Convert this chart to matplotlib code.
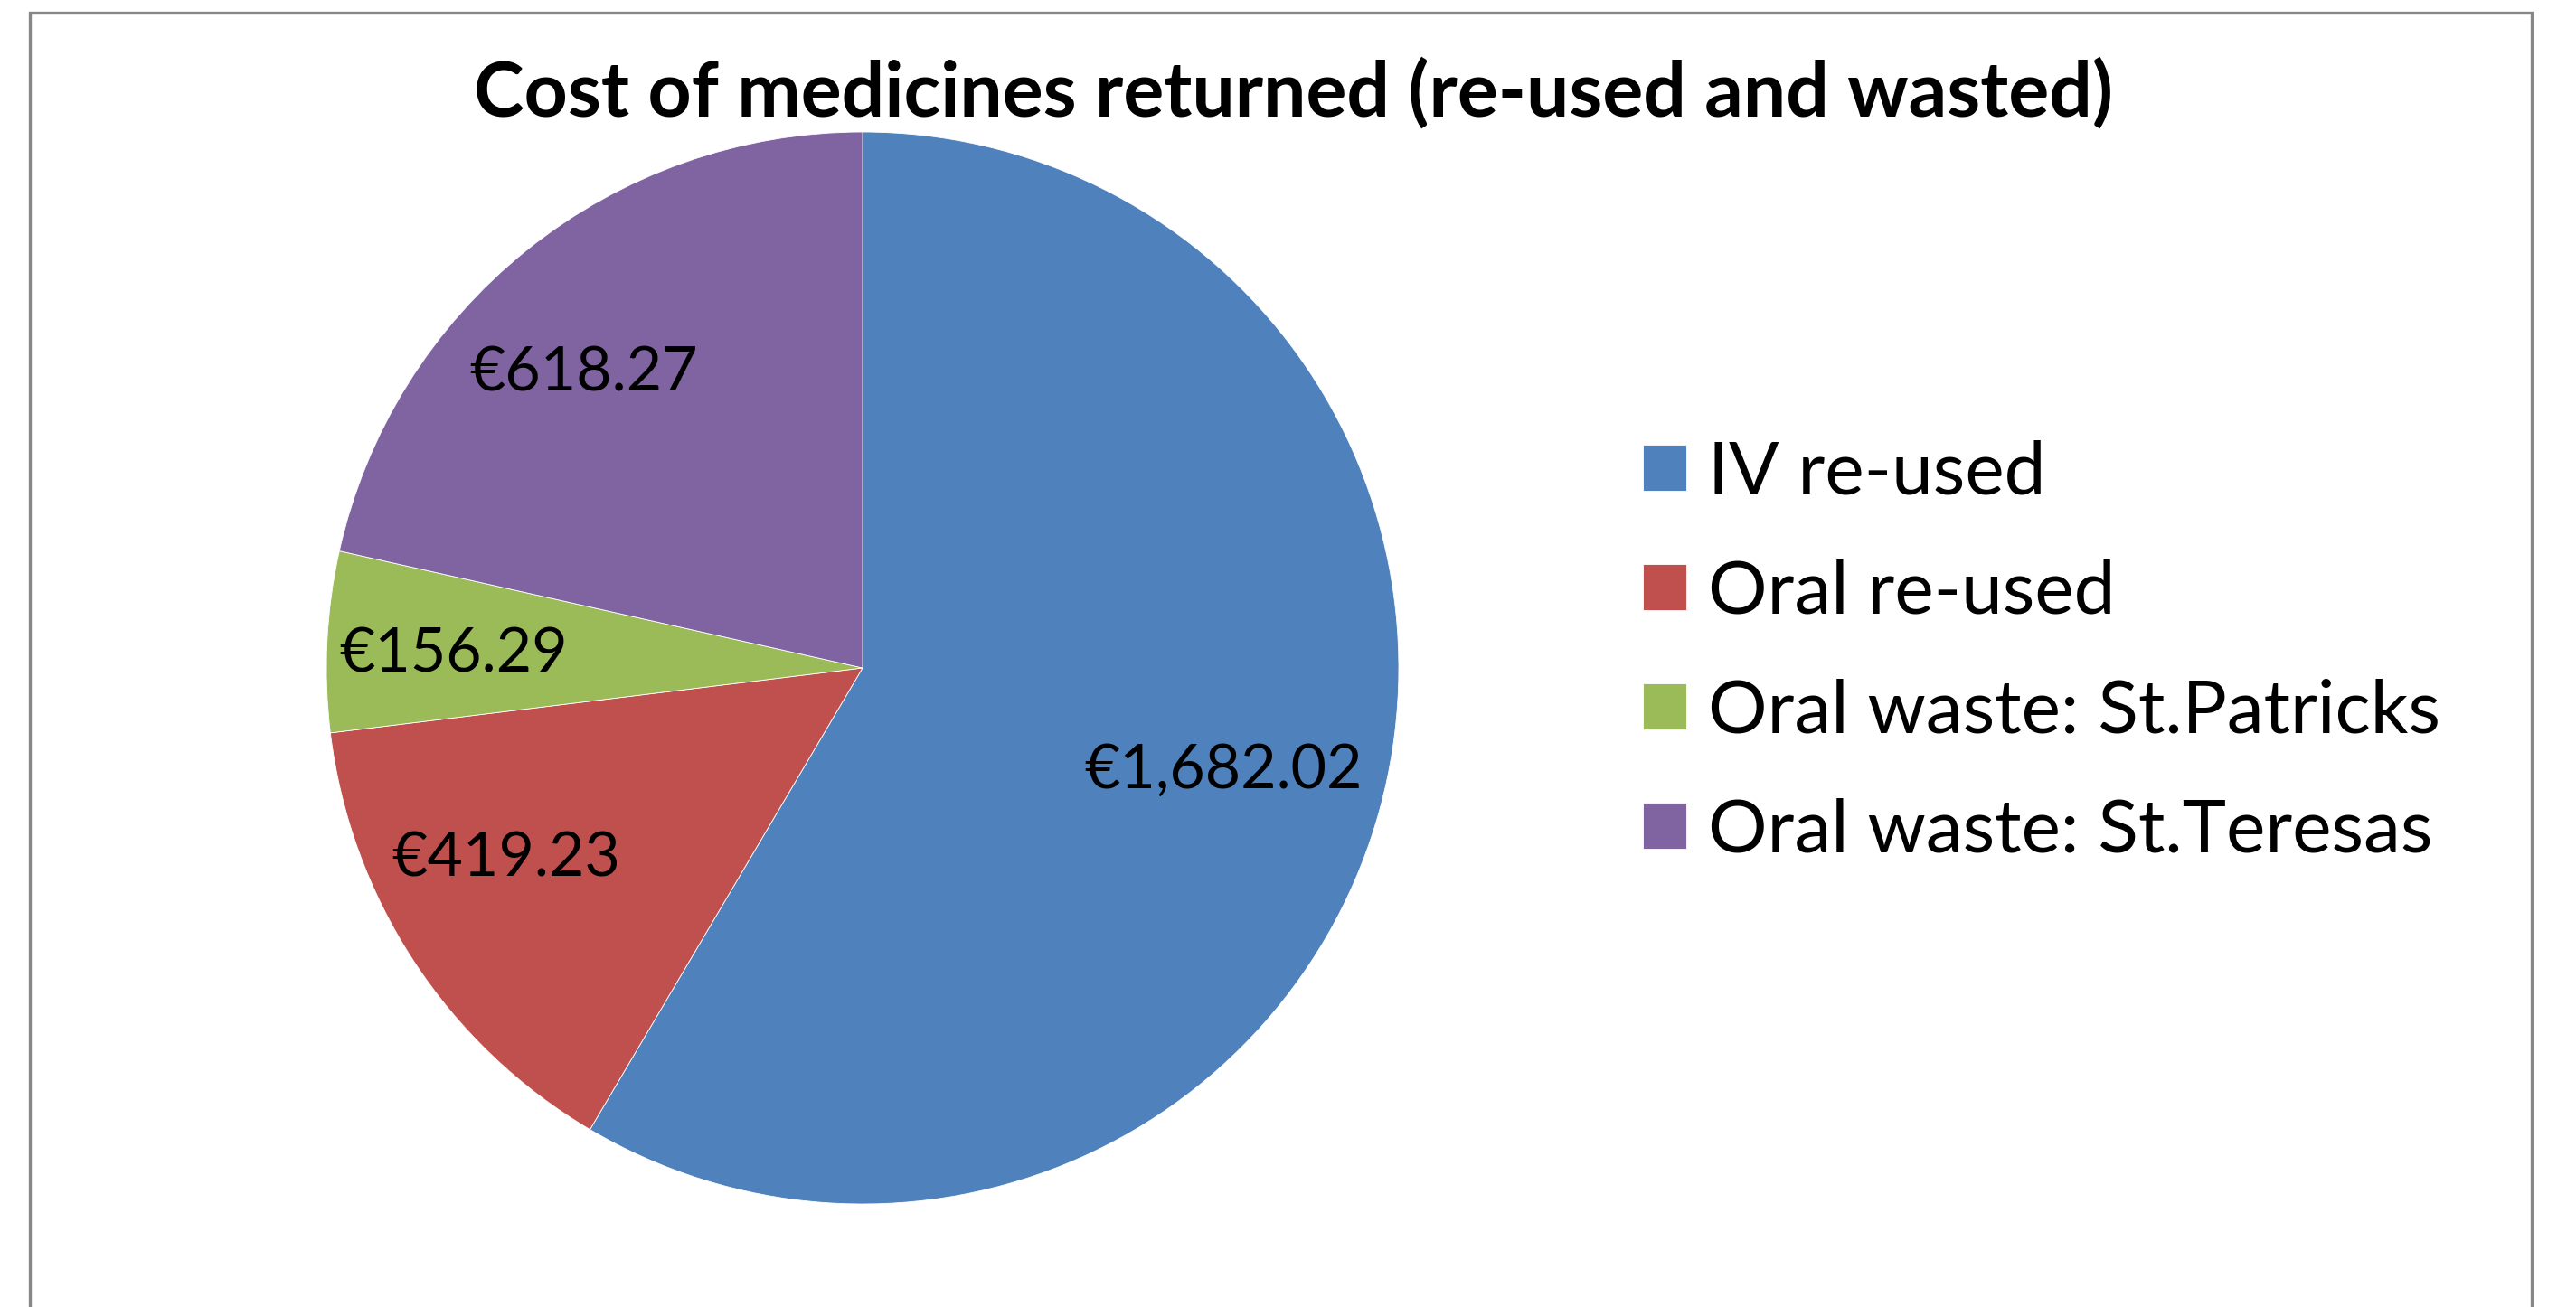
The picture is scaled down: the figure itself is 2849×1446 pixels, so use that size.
import matplotlib
matplotlib.use("Agg")
import matplotlib.pyplot as plt
from matplotlib.patches import Rectangle
import numpy as np

categories = ["IV re-used", "Oral re-used", "Oral waste: St.Patricks", "Oral waste: St.Teresas"]
values = [1682.02, 419.23, 156.29, 618.27]
colors = ["#4F81BD", "#C0504D", "#9BBB59", "#8064A2"]
title = "Cost of medicines returned (re-used and wasted)"

# label layout (radius as fraction of pie radius, angle shift in degrees)
label_radius = [0.70, 0.755, 0.764, 0.757]
label_shift = [-0.7, -5.0, 1.0, 4.8]

plt.rcParams["font.family"] = ["Lato", "DejaVu Sans"]

W, H = 2849, 1446
fig = plt.figure(figsize=(W / 100, H / 100), dpi=100)
fig.patch.set_facecolor("white")

# chart frame
fig.patches.append(Rectangle((33 / W, -0.02), (2800 - 33) / W, 1.02 - 14 / H,
                             transform=fig.transFigure, fill=False, edgecolor="#878787",
                             linewidth=2.4, zorder=0))

cx, cy, r = 954, 739, 593
ax = fig.add_axes([(cx - r) / W, (H - cy - r) / H, 2 * r / W, 2 * r / H])
wedges, _ = ax.pie(values, colors=colors, startangle=90, counterclock=False,
                   radius=1.0, wedgeprops=dict(linewidth=0.6, edgecolor="white"))
ax.set_xlim(-1, 1)
ax.set_ylim(-1, 1)
ax.set_aspect("equal")
ax.axis("off")

total = sum(values)
angle = 90.0
for v, rr, sh in zip(values, label_radius, label_shift):
    span = 360.0 * v / total
    mid = np.deg2rad(angle - span / 2 + sh)
    ax.text(rr * np.cos(mid), rr * np.sin(mid), f"€{v:,.2f}", ha="center", va="center",
            fontsize=49, color="black")
    angle -= span

fig.text(0.502, 0.929, title, ha="center", va="center", fontsize=60.5, fontweight="bold")

leg = fig.legend(wedges, categories, loc="center left", bbox_to_anchor=(0.6378, 0.501),
                 frameon=False, fontsize=59, handlelength=0.58, handleheight=0.58,
                 handletextpad=0.3, labelspacing=0.71, borderaxespad=0, borderpad=0)

fig.savefig("out.png", dpi=100, facecolor="white")
